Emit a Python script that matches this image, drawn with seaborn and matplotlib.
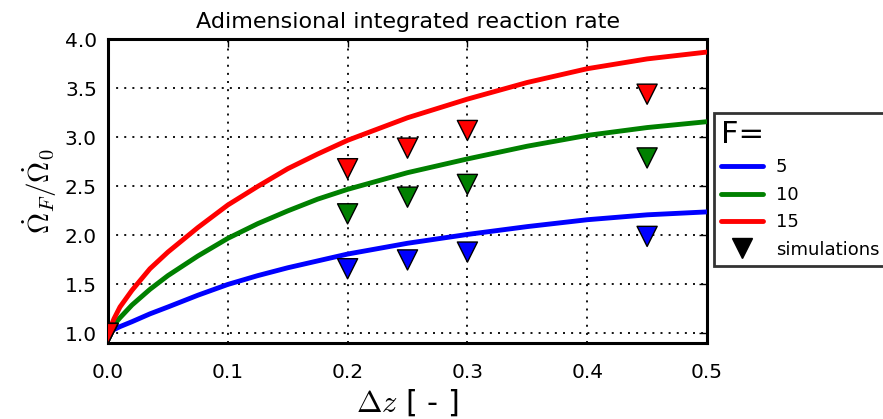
import matplotlib
matplotlib.use("Agg")
import matplotlib.pyplot as plt
import pandas as pd
import seaborn as sns

# curves
dz = [0.0, 0.005, 0.01, 0.02, 0.035, 0.05, 0.075, 0.1, 0.125, 0.15, 0.175,
      0.2, 0.25, 0.3, 0.35, 0.4, 0.45, 0.5]
rate_f5 = [1.0, 1.04, 1.07, 1.12, 1.20, 1.27, 1.39, 1.50, 1.59, 1.67, 1.74,
           1.81, 1.92, 2.01, 2.09, 2.16, 2.21, 2.24]
rate_f10 = [1.0, 1.09, 1.16, 1.29, 1.45, 1.59, 1.79, 1.97, 2.12, 2.25, 2.37,
            2.47, 2.64, 2.78, 2.91, 3.02, 3.10, 3.16]
rate_f15 = [1.0, 1.15, 1.27, 1.44, 1.66, 1.83, 2.08, 2.31, 2.50, 2.68, 2.83,
            2.97, 3.20, 3.39, 3.56, 3.70, 3.80, 3.87]

# simulation points
sim_dz = [0.0, 0.2, 0.25, 0.3, 0.45]
sim_f5 = [1.0, 1.66, 1.75, 1.83, 1.99]
sim_f10 = [1.0, 2.22, 2.39, 2.52, 2.79]
sim_f15 = [1.0, 2.68, 2.89, 3.07, 3.44]

labels = ["5", "10", "15"]
colors = {"5": "blue", "10": "green", "15": "red"}

curves = pd.concat([
    pd.DataFrame({"dz": dz, "rate": r, "F": f})
    for r, f in zip([rate_f5, rate_f10, rate_f15], labels)
])
sims = pd.concat([
    pd.DataFrame({"dz": sim_dz, "rate": r, "F": f})
    for r, f in zip([sim_f5, sim_f10, sim_f15], labels)
])

sns.set_style("white")
plt.rcParams["mathtext.fontset"] = "cm"
plt.rcParams["font.family"] = ["DejaVu Sans"]
plt.rcParams["text.color"] = "black"
plt.rcParams["axes.labelcolor"] = "black"
plt.rcParams["xtick.color"] = "black"
plt.rcParams["ytick.color"] = "black"

fig = plt.figure(figsize=(8.83, 4.19), dpi=100)
ax = fig.add_axes([0.1223, 0.1807, 0.6784, 0.7255])

sns.lineplot(data=curves, x="dz", y="rate", hue="F", palette=colors,
             linewidth=3.5, ax=ax, legend=False, zorder=3)
sns.scatterplot(data=sims, x="dz", y="rate", hue="F", palette=colors,
                marker="v", s=210, edgecolor="black", linewidth=1,
                ax=ax, legend=False, zorder=4)

ax.set_xlim(0, 0.5)
ax.set_ylim(0.9, 4.0)
ax.set_xticks([0.0, 0.1, 0.2, 0.3, 0.4, 0.5])
ax.set_yticks([1.0, 1.5, 2.0, 2.5, 3.0, 3.5, 4.0])
ax.grid(True, color="black", linestyle=(0, (1.1, 3.4)), linewidth=1.3)
ax.tick_params(direction="in", length=6, width=1, labelsize=14.5,
               top=True, right=True)
ax.tick_params(axis="x", pad=14)
ax.tick_params(axis="y", pad=8)
for sp in ax.spines.values():
    sp.set_linewidth(2.2)
    sp.set_color("black")

ax.set_title("Adimensional integrated reaction rate", fontsize=16, pad=8)
ax.set_xlabel(r"$\Delta z$ [ - ]", fontsize=22)
ax.set_ylabel(r"$\dot{\Omega}_F/\dot{\Omega}_0$", fontsize=21)

handles = [plt.Line2D([], [], color=colors[f], lw=3.5) for f in labels]
handles.append(plt.Line2D([], [], color="black", marker="v", ls="",
                          markersize=15))
leg = ax.legend(handles, labels + ["simulations"], title="F=",
                loc="upper left", bbox_to_anchor=(1.012, 0.758),
                fontsize=13, title_fontsize=22, frameon=True,
                fancybox=False, borderaxespad=0, handlelength=2.3,
                handletextpad=0.7, labelspacing=0.52, borderpad=0.4)
leg._legend_box.align = "left"
leg.get_frame().set_edgecolor("black")
leg.get_frame().set_linewidth(2)

fig.savefig("out.png", dpi=100)
